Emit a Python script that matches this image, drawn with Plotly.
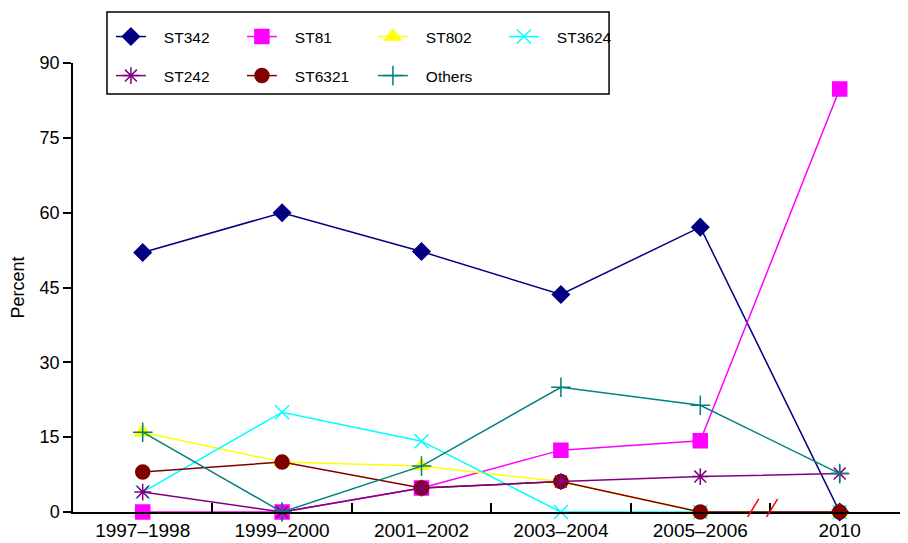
import plotly.graph_objects as go

categories = ["1997–1998", "1999–2000", "2001–2002", "2003–2004", "2005–2006", "2010"]
st342 = [52.0, 60.0, 52.2, 43.6, 57.1, 0.0]
st81 = [0.0, 0.0, 4.8, 12.4, 14.3, 84.8]
st802 = [16.0, 10.0, 9.2, 6.1, 0.0, 0.0]
st3624 = [4.0, 20.0, 14.2, 0.0, 0.0, 0.0]
st242 = [4.0, 0.0, 4.8, 6.1, 7.1, 7.7]
st6321 = [8.0, 10.0, 4.8, 6.1, 0.0, 0.0]
others = [16.0, 0.0, 9.2, 25.0, 21.4, 7.7]
y_ticks = [0, 15, 30, 45, 60, 75, 90]

xpos = list(range(len(categories)))
FONT = "Liberation Sans"

series = [
    ("ST342", st342, "#000080", "diamond", 13, "legend", 1),
    ("ST81", st81, "#FF00FF", "square", 14, "legend", 2),
    ("ST802", st802, "#FFFF00", "triangle-up", 14, "legend", 3),
    ("ST3624", st3624, "#00FFFF", "x-thin-open", 14, "legend", 4),
    ("ST6321", st6321, "#800000", "circle", 14, "legend2", 6),
    ("ST242", st242, "#800080", "asterisk-open", 14, "legend2", 5),
    ("Others", others, "#008080", "cross-thin-open", 14, "legend2", 7),
]

fig = go.Figure()
for name, vals, color, sym, size, leg, rank in series:
    fig.add_trace(go.Scatter(
        x=xpos, y=vals, name="\u00a0\u00a0\u00a0" + name, mode="lines+markers",
        line=dict(color=color, width=1.5),
        marker=dict(symbol=sym, size=size, color=color,
                    line=dict(color=color, width=1.5)),
        legend=leg, legendrank=rank, cliponaxis=False,
    ))

legfont = dict(family=FONT, size=15.5, color="black")
# page body adds an 8px offset, so the figure is 900x535 placed at (8, 8)
fig.update_layout(
    width=900, height=535,
    margin=dict(l=65, r=0, t=55, b=31, autoexpand=False),
    paper_bgcolor="white", plot_bgcolor="white",
    font=dict(family=FONT, size=18, color="black"),
    showlegend=True,
    legend=dict(orientation="h", x=0.0454, xanchor="left", y=1.058, yanchor="middle",
                bgcolor="rgba(0,0,0,0)", borderwidth=0,
                entrywidth=86, entrywidthmode="pixels", font=legfont),
    legend2=dict(orientation="h", x=0.0454, xanchor="left", y=0.971, yanchor="middle",
                 bgcolor="rgba(0,0,0,0)", borderwidth=0,
                 entrywidth=86, entrywidthmode="pixels", font=legfont),
    xaxis=dict(range=[-0.5, 5.49], tickmode="array", tickvals=xpos, ticktext=categories,
               ticks="", showgrid=False, zeroline=False,
               showline=True, linecolor="black", linewidth=1.5,
               tickfont=dict(size=19),
               minor=dict(tickmode="array", tickvals=[0.5, 1.5, 2.5, 3.5, 4.5],
                          ticks="inside", ticklen=9, tickcolor="black", tickwidth=1.5,
                          showgrid=False)),
    yaxis=dict(range=[0, 90], tickmode="array", tickvals=y_ticks,
               ticks="outside", ticklen=8, tickcolor="black", tickwidth=1.5,
               showgrid=False, zeroline=False,
               showline=True, linecolor="black", linewidth=1.5,
               tickfont=dict(size=18),
               title=dict(text="Percent", font=dict(size=18), standoff=14)),
    shapes=[
        dict(type="rect", xref="paper", yref="paper", x0=0.0407, x1=0.642, y0=0.931, y1=1.1136,
             line=dict(color="black", width=1.5), fillcolor="rgba(0,0,0,0)", layer="below"),
        dict(type="line", xref="x", yref="paper", x0=4.34, x1=4.42, y0=-0.011, y1=0.029,
             line=dict(color="red", width=1.5)),
        dict(type="line", xref="x", yref="paper", x0=4.475, x1=4.555, y0=-0.011, y1=0.029,
             line=dict(color="red", width=1.5)),
    ],
)

fig.write_html("out.html")
